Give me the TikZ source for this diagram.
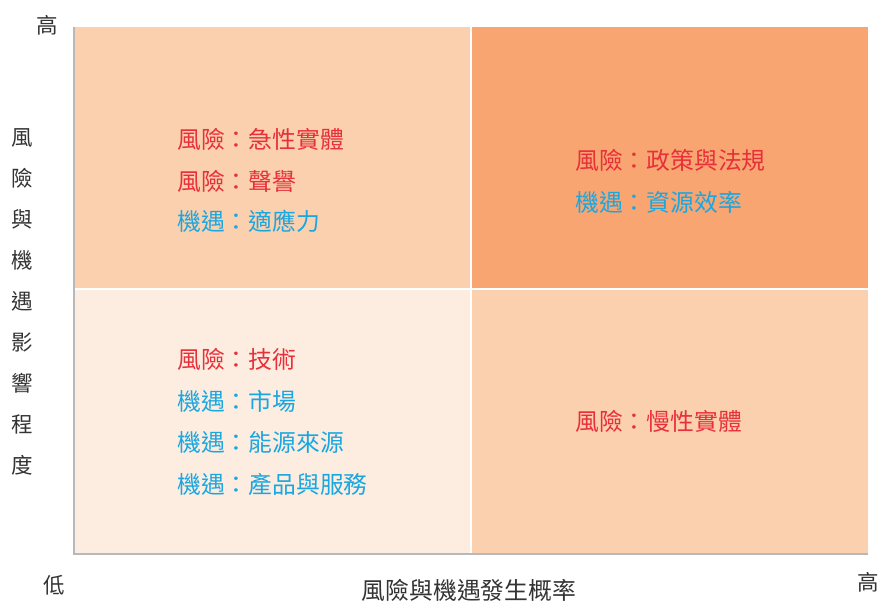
\documentclass[tikz,border=0pt]{standalone}
\usepackage{fontspec}
\setmainfont{Noto Sans CJK TC}
\definecolor{qa}{HTML}{FBD0AE}
\definecolor{qb}{HTML}{F8A572}
\definecolor{qc}{HTML}{FDEDE0}
\definecolor{riskc}{HTML}{E8303A}
\definecolor{oppc}{HTML}{1AA7E0}
\definecolor{axc}{HTML}{B8B8B8}
\definecolor{labc}{HTML}{333333}
\begin{document}
\begin{tikzpicture}[x=1pt,y=-1pt,
  qtext/.style={anchor=west,inner sep=0pt,font=\fontsize{23.8}{26}\selectfont},
  risk/.style={qtext,text=riskc},
  opp/.style={qtext,text=oppc},
  axlab/.style={inner sep=0pt,text=labc,font=\fontsize{21.5}{24}\selectfont}]
\useasboundingbox (0,0) rectangle (881,601);
\fill[white] (0,0) rectangle (881,601);
% quadrants
\fill[qa] (73,27) rectangle (470,288);
\fill[qb] (472,27) rectangle (868,288);
\fill[qc] (73,290) rectangle (470,553);
\fill[qa] (472,290) rectangle (868,553);
% axes
\coordinate (o) at (74,554);
\coordinate (yt) at (74,27);
\coordinate (xr) at (868,554);
\draw[axc,line width=2.5pt] (yt) -- (o) -- (xr);
% quadrant texts
\node[risk] (a1) at (177,139) {風險：急性實體};
\node[risk] (a2) at (177,181) {風險：聲譽};
\node[opp]  (a3) at (177,221) {機遇：適應力};
\node[risk] (b1) at (575,160) {風險：政策與法規};
\node[opp]  (b2) at (575,202) {機遇：資源效率};
\node[risk] (c1) at (177,359) {風險：技術};
\node[opp]  (c2) at (177,401) {機遇：市場};
\node[opp]  (c3) at (177,442) {機遇：能源來源};
\node[opp]  (c4) at (177,484) {機遇：產品與服務};
\node[risk] (d1) at (575,421) {風險：慢性實體};
% axis labels
\node[axlab] (hy) at (47,25) {高};
\node[axlab] (lo) at (54,585) {低};
\node[axlab] (hx) at (868,582) {高};
\node[axlab,font=\fontsize{23.8}{26}\selectfont] (xt) at (469,590) {風險與機遇發生概率};
\node[axlab,align=center,font=\fontsize{21.5}{41}\selectfont] (yt2) at (22,302) {風\\險\\與\\機\\遇\\影\\響\\程\\度};
\end{tikzpicture}
\end{document}
